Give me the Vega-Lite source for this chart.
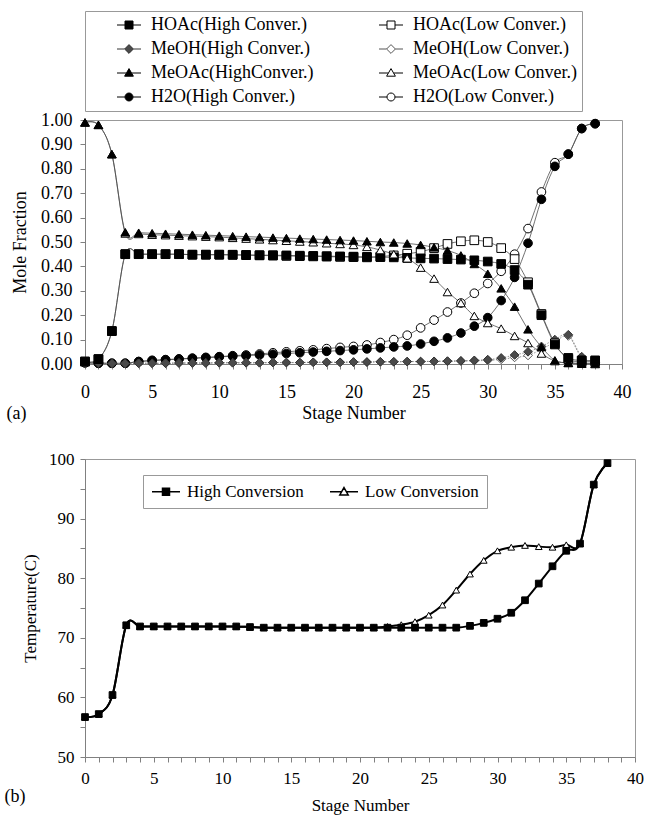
{
"$schema": "https://vega.github.io/schema/vega-lite/v6.json",
"background": "white",
"padding": {"left": 4, "top": 10, "right": 5, "bottom": 5},
"spacing": 25,
"config": {
 "font": "Liberation Serif",
 "view": {"stroke": "#999999", "strokeWidth": 1},
 "axis": {"grid": false, "domainColor": "#808080", "tickColor": "#808080", "labelColor": "#000000", "titleColor": "#000000", "titleFontWeight": "normal", "labelFont": "Liberation Serif", "titleFont": "Liberation Serif", "labelOverlap": false, "labelFlush": false},
 "legend": {"labelFont": "Liberation Serif", "labelColor": "#000000"}
},
"resolve": {"scale": {"x": "independent", "y": "independent", "shape": "independent", "fill": "independent", "stroke": "independent"}, "legend": {"shape": "independent", "fill": "independent", "stroke": "independent"}},
"vconcat": [
{
 "width": 537, "height": 244,
 "title": {"text": "(a)", "orient": "bottom", "anchor": "start", "frame": "bounds", "offset": -17, "dx": -5, "fontSize": 18, "fontWeight": "normal", "font": "Liberation Serif", "color": "#000000"},
 "data": {"values": [
  {"s":0,"HH":0.01,"HL":0.01,"MH":0.003,"ML":0.003,"AH":0.99,"AL":0.99,"WH":0.005,"WL":0.005},
  {"s":1,"HH":0.02,"HL":0.02,"MH":0.003,"ML":0.003,"AH":0.98,"AL":0.98,"WH":0.003,"WL":0.003},
  {"s":2,"HH":0.135,"HL":0.135,"MH":0.002,"ML":0.002,"AH":0.86,"AL":0.86,"WH":0.003,"WL":0.003},
  {"s":3,"HH":0.45,"HL":0.45,"MH":0.002,"ML":0.002,"AH":0.54,"AL":0.535,"WH":0.003,"WL":0.003},
  {"s":4,"HH":0.45,"HL":0.45,"MH":0.003,"ML":0.003,"AH":0.538,"AL":0.533,"WH":0.01,"WL":0.01},
  {"s":5,"HH":0.45,"HL":0.45,"MH":0.003,"ML":0.003,"AH":0.536,"AL":0.53,"WH":0.014,"WL":0.015},
  {"s":6,"HH":0.45,"HL":0.45,"MH":0.003,"ML":0.003,"AH":0.534,"AL":0.528,"WH":0.017,"WL":0.018},
  {"s":7,"HH":0.45,"HL":0.45,"MH":0.004,"ML":0.004,"AH":0.532,"AL":0.526,"WH":0.02,"WL":0.021},
  {"s":8,"HH":0.448,"HL":0.448,"MH":0.004,"ML":0.004,"AH":0.53,"AL":0.524,"WH":0.023,"WL":0.024},
  {"s":9,"HH":0.448,"HL":0.448,"MH":0.004,"ML":0.004,"AH":0.528,"AL":0.522,"WH":0.026,"WL":0.027},
  {"s":10,"HH":0.448,"HL":0.448,"MH":0.005,"ML":0.005,"AH":0.526,"AL":0.52,"WH":0.029,"WL":0.03},
  {"s":11,"HH":0.448,"HL":0.447,"MH":0.005,"ML":0.005,"AH":0.524,"AL":0.517,"WH":0.032,"WL":0.034},
  {"s":12,"HH":0.447,"HL":0.446,"MH":0.005,"ML":0.005,"AH":0.522,"AL":0.514,"WH":0.034,"WL":0.037},
  {"s":13,"HH":0.446,"HL":0.445,"MH":0.005,"ML":0.005,"AH":0.52,"AL":0.511,"WH":0.037,"WL":0.041},
  {"s":14,"HH":0.446,"HL":0.444,"MH":0.006,"ML":0.006,"AH":0.518,"AL":0.508,"WH":0.04,"WL":0.046},
  {"s":15,"HH":0.445,"HL":0.443,"MH":0.006,"ML":0.006,"AH":0.516,"AL":0.505,"WH":0.043,"WL":0.05},
  {"s":16,"HH":0.444,"HL":0.442,"MH":0.006,"ML":0.006,"AH":0.514,"AL":0.502,"WH":0.046,"WL":0.054},
  {"s":17,"HH":0.443,"HL":0.441,"MH":0.007,"ML":0.007,"AH":0.512,"AL":0.499,"WH":0.049,"WL":0.058},
  {"s":18,"HH":0.442,"HL":0.44,"MH":0.007,"ML":0.007,"AH":0.51,"AL":0.495,"WH":0.052,"WL":0.063},
  {"s":19,"HH":0.441,"HL":0.439,"MH":0.007,"ML":0.007,"AH":0.508,"AL":0.492,"WH":0.055,"WL":0.068},
  {"s":20,"HH":0.44,"HL":0.438,"MH":0.008,"ML":0.008,"AH":0.506,"AL":0.488,"WH":0.058,"WL":0.072},
  {"s":21,"HH":0.439,"HL":0.437,"MH":0.008,"ML":0.008,"AH":0.503,"AL":0.48,"WH":0.062,"WL":0.078},
  {"s":22,"HH":0.438,"HL":0.44,"MH":0.009,"ML":0.009,"AH":0.5,"AL":0.467,"WH":0.066,"WL":0.088},
  {"s":23,"HH":0.437,"HL":0.445,"MH":0.009,"ML":0.009,"AH":0.498,"AL":0.45,"WH":0.07,"WL":0.1},
  {"s":24,"HH":0.435,"HL":0.452,"MH":0.01,"ML":0.01,"AH":0.494,"AL":0.433,"WH":0.074,"WL":0.118},
  {"s":25,"HH":0.433,"HL":0.46,"MH":0.01,"ML":0.01,"AH":0.488,"AL":0.395,"WH":0.082,"WL":0.148},
  {"s":26,"HH":0.432,"HL":0.475,"MH":0.011,"ML":0.011,"AH":0.478,"AL":0.35,"WH":0.093,"WL":0.18},
  {"s":27,"HH":0.43,"HL":0.492,"MH":0.012,"ML":0.011,"AH":0.465,"AL":0.295,"WH":0.107,"WL":0.213},
  {"s":28,"HH":0.428,"HL":0.503,"MH":0.013,"ML":0.012,"AH":0.445,"AL":0.25,"WH":0.127,"WL":0.25},
  {"s":29,"HH":0.425,"HL":0.507,"MH":0.015,"ML":0.013,"AH":0.41,"AL":0.197,"WH":0.155,"WL":0.29},
  {"s":30,"HH":0.42,"HL":0.5,"MH":0.018,"ML":0.015,"AH":0.37,"AL":0.168,"WH":0.19,"WL":0.33},
  {"s":31,"HH":0.41,"HL":0.475,"MH":0.025,"ML":0.019,"AH":0.31,"AL":0.145,"WH":0.26,"WL":0.38},
  {"s":32,"HH":0.385,"HL":0.43,"MH":0.037,"ML":0.027,"AH":0.235,"AL":0.115,"WH":0.355,"WL":0.45},
  {"s":33,"HH":0.325,"HL":0.335,"MH":0.05,"ML":0.035,"AH":0.142,"AL":0.086,"WH":0.495,"WL":0.555},
  {"s":34,"HH":0.2,"HL":0.205,"MH":0.072,"ML":0.06,"AH":0.07,"AL":0.043,"WH":0.675,"WL":0.705},
  {"s":35,"HH":0.08,"HL":0.085,"MH":0.1,"ML":0.09,"AH":0.015,"AL":0.012,"WH":0.81,"WL":0.825},
  {"s":36,"HH":0.025,"HL":0.02,"MH":0.12,"ML":0.115,"AH":0.005,"AL":0.004,"WH":0.86,"WL":0.86},
  {"s":37,"HH":0.015,"HL":0.01,"MH":0.03,"ML":0.025,"AH":0.003,"AL":0.001,"WH":0.965,"WL":0.965},
  {"s":38,"HH":0.015,"HL":0.01,"MH":0.005,"ML":0.005,"AH":0.002,"AL":0.0,"WH":0.985,"WL":0.985}
 ]},
 "transform": [{"fold": ["HH","HL","MH","ML","AH","AL","WH","WL"], "as": ["k","v"]}],
 "encoding": {
  "x": {"field": "s", "type": "quantitative", "scale": {"domain": [0,40], "nice": false},
   "axis": {"title": "Stage Number", "values": [0,1,2,3,4,5,6,7,8,9,10,11,12,13,14,15,16,17,18,19,20,21,22,23,24,25,26,27,28,29,30,31,32,33,34,35,36,37,38,39,40], "labelExpr": "datum.value % 5 == 0 ? datum.label : ''", "tickSize": 5, "labelPadding": 14, "labelFontSize": 18, "titleFontSize": 18, "titlePadding": 3}},
  "y": {"field": "v", "type": "quantitative", "scale": {"domain": [0,1], "nice": false},
   "axis": {"title": "Mole Fraction", "values": [0,0.1,0.2,0.3,0.4,0.5,0.6,0.7,0.8,0.9,1], "format": ".2f", "tickSize": 5, "labelPadding": 8, "labelFontSize": 18, "titleFontSize": 18, "titlePadding": 11}}
 },
 "layer": [
  {"transform": [{"filter": "datum.k != 'MH' && datum.k != 'ML'"}],
   "mark": {"type": "line", "interpolate": "cardinal", "strokeWidth": 0.8, "color": "#4d4d4d"},
   "encoding": {"detail": {"field": "k", "type": "nominal"}}},
  {"transform": [{"filter": "datum.k == 'MH' || datum.k == 'ML'"}],
   "mark": {"type": "line", "interpolate": "cardinal", "strokeWidth": 0.9, "color": "#888888", "strokeDash": [1.5, 1.5]},
   "encoding": {"detail": {"field": "k", "type": "nominal"}}},
  {"mark": {"type": "point", "filled": true, "size": 75, "strokeWidth": 1, "opacity": 1},
   "encoding": {
    "order": {"field": "k", "sort": "descending"},
    "fill": {"field": "k", "type": "nominal", "scale": {"domain": ["HH","MH","AH","WH","HL","ML","AL","WL"], "range": ["#000000","#4a4a4a","#000000","#000000","#ffffff","#ffffff","#ffffff","#ffffff"]},
     "legend": {"title": null, "orient": "none", "legendX": 0, "legendY": -109, "columns": 2, "padding": 5, "rowPadding": 6, "columnPadding": 38, "strokeColor": "#999999", "fillColor": "#ffffff", "labelFontSize": 18, "labelLimit": 400, "symbolSize": 64, "symbolStrokeWidth": 1, "symbolOffset": 30, "labelOffset": 13,
      "labelExpr": "datum.label=='HH'?'HOAc(High Conver.)':datum.label=='HL'?'HOAc(Low Conver.)':datum.label=='MH'?'MeOH(High Conver.)':datum.label=='ML'?'MeOH(Low Conver.)':datum.label=='AH'?'MeOAc(HighConver.)':datum.label=='AL'?'MeOAc(Low Conver.)':datum.label=='WH'?'H2O(High Conver.)':'H2O(Low Conver.)'",
      "symbolType": {"expr": "(datum.value=='HH'||datum.value=='HL')?'M-3,0H-1M1,0H3M-1,-1H1V1H-1Z':(datum.value=='MH'||datum.value=='ML')?'M-3,0H-1.1M1.1,0H3M0,-1.1L1.1,0L0,1.1L-1.1,0Z':(datum.value=='AH'||datum.value=='AL')?'M-3,0H-0.7M0.7,0H3M0,-1.1L1.1,0.8H-1.1Z':'M-3,0H-1M1,0H3M1,0A1,1,0,1,1,-1,0A1,1,0,1,1,1,0Z'"}}},
    "stroke": {"field": "k", "type": "nominal", "scale": {"domain": ["HH","MH","AH","WH","HL","ML","AL","WL"], "range": ["#000000","#333333","#000000","#000000","#000000","#555555","#000000","#000000"]},
     "legend": {"title": null, "orient": "none", "legendX": 0, "legendY": -109, "columns": 2, "padding": 5, "rowPadding": 6, "columnPadding": 38, "strokeColor": "#999999", "fillColor": "#ffffff", "labelFontSize": 18, "labelLimit": 400, "symbolSize": 64, "symbolStrokeWidth": 1, "symbolOffset": 30, "labelOffset": 13,
      "labelExpr": "datum.label=='HH'?'HOAc(High Conver.)':datum.label=='HL'?'HOAc(Low Conver.)':datum.label=='MH'?'MeOH(High Conver.)':datum.label=='ML'?'MeOH(Low Conver.)':datum.label=='AH'?'MeOAc(HighConver.)':datum.label=='AL'?'MeOAc(Low Conver.)':datum.label=='WH'?'H2O(High Conver.)':'H2O(Low Conver.)'",
      "symbolType": {"expr": "(datum.value=='HH'||datum.value=='HL')?'M-3,0H-1M1,0H3M-1,-1H1V1H-1Z':(datum.value=='MH'||datum.value=='ML')?'M-3,0H-1.1M1.1,0H3M0,-1.1L1.1,0L0,1.1L-1.1,0Z':(datum.value=='AH'||datum.value=='AL')?'M-3,0H-0.7M0.7,0H3M0,-1.1L1.1,0.8H-1.1Z':'M-3,0H-1M1,0H3M1,0A1,1,0,1,1,-1,0A1,1,0,1,1,1,0Z'"}}},
    "shape": {"field": "k", "type": "nominal", "scale": {"domain": ["WL","AL","ML","HL","WH","AH","MH","HH"], "range": ["circle","triangle-up","diamond","square","circle","triangle-up","diamond","square"]}, "legend": null}
   }}
 ]
},
{
 "width": 550, "height": 298,
 "title": {"text": "(b)", "orient": "bottom", "anchor": "start", "frame": "bounds", "offset": -25, "dx": -17, "fontSize": 18, "fontWeight": "normal", "font": "Liberation Serif", "color": "#000000"},
 "data": {"values": [
  {"s":0,"High Conversion":56.7,"Low Conversion":56.7},
  {"s":1,"High Conversion":57.2,"Low Conversion":57.2},
  {"s":2,"High Conversion":60.4,"Low Conversion":60.4},
  {"s":3,"High Conversion":72.1,"Low Conversion":72.1},
  {"s":4,"High Conversion":71.9,"Low Conversion":71.9},
  {"s":5,"High Conversion":71.9,"Low Conversion":71.9},
  {"s":6,"High Conversion":71.9,"Low Conversion":71.9},
  {"s":7,"High Conversion":71.9,"Low Conversion":71.9},
  {"s":8,"High Conversion":71.9,"Low Conversion":71.9},
  {"s":9,"High Conversion":71.9,"Low Conversion":71.9},
  {"s":10,"High Conversion":71.9,"Low Conversion":71.9},
  {"s":11,"High Conversion":71.9,"Low Conversion":71.9},
  {"s":12,"High Conversion":71.8,"Low Conversion":71.8},
  {"s":13,"High Conversion":71.7,"Low Conversion":71.7},
  {"s":14,"High Conversion":71.7,"Low Conversion":71.7},
  {"s":15,"High Conversion":71.7,"Low Conversion":71.7},
  {"s":16,"High Conversion":71.7,"Low Conversion":71.7},
  {"s":17,"High Conversion":71.7,"Low Conversion":71.7},
  {"s":18,"High Conversion":71.7,"Low Conversion":71.7},
  {"s":19,"High Conversion":71.7,"Low Conversion":71.7},
  {"s":20,"High Conversion":71.7,"Low Conversion":71.7},
  {"s":21,"High Conversion":71.7,"Low Conversion":71.7},
  {"s":22,"High Conversion":71.7,"Low Conversion":71.9},
  {"s":23,"High Conversion":71.7,"Low Conversion":72.2},
  {"s":24,"High Conversion":71.7,"Low Conversion":72.7},
  {"s":25,"High Conversion":71.7,"Low Conversion":73.8},
  {"s":26,"High Conversion":71.7,"Low Conversion":75.5},
  {"s":27,"High Conversion":71.7,"Low Conversion":78.0},
  {"s":28,"High Conversion":72.0,"Low Conversion":80.7},
  {"s":29,"High Conversion":72.5,"Low Conversion":83.0},
  {"s":30,"High Conversion":73.2,"Low Conversion":84.6},
  {"s":31,"High Conversion":74.2,"Low Conversion":85.2},
  {"s":32,"High Conversion":76.3,"Low Conversion":85.5},
  {"s":33,"High Conversion":79.1,"Low Conversion":85.3},
  {"s":34,"High Conversion":82.0,"Low Conversion":85.2},
  {"s":35,"High Conversion":84.6,"Low Conversion":85.6},
  {"s":36,"High Conversion":85.8,"Low Conversion":85.8},
  {"s":37,"High Conversion":95.7,"Low Conversion":95.7},
  {"s":38,"High Conversion":99.3,"Low Conversion":99.3}
 ]},
 "transform": [{"fold": ["High Conversion","Low Conversion"], "as": ["k","v"]}],
 "encoding": {
  "x": {"field": "s", "type": "quantitative", "scale": {"domain": [0,40], "nice": false},
   "axis": {"title": "Stage Number", "values": [0,1,2,3,4,5,6,7,8,9,10,11,12,13,14,15,16,17,18,19,20,21,22,23,24,25,26,27,28,29,30,31,32,33,34,35,36,37,38,39,40], "labelExpr": "datum.value % 5 == 0 ? datum.label : ''", "tickSize": 5, "labelPadding": 8, "labelFontSize": 17, "titleFontSize": 17, "titlePadding": 11}},
  "y": {"field": "v", "type": "quantitative", "scale": {"domain": [50,100], "nice": false},
   "axis": {"title": "Temperature(C)", "values": [50,55,60,65,70,75,80,85,90,95,100], "labelExpr": "datum.value % 10 == 0 ? datum.label : ''", "tickSize": 5, "labelPadding": 6, "labelFontSize": 17, "titleFontSize": 17, "titlePadding": 9}}
 },
 "layer": [
  {"mark": {"type": "line", "interpolate": "cardinal", "strokeWidth": 2, "color": "#000000"},
   "encoding": {"detail": {"field": "k", "type": "nominal"}}},
  {"mark": {"type": "point", "filled": true, "size": 45, "strokeWidth": 1, "opacity": 1},
   "encoding": {
    "order": {"field": "k", "sort": "descending"},
    "fill": {"field": "k", "type": "nominal", "scale": {"domain": ["High Conversion","Low Conversion"], "range": ["#000000","#ffffff"]},
     "legend": {"title": null, "orient": "none", "direction": "horizontal", "legendX": 58, "legendY": 16, "padding": 8, "columnPadding": 23, "strokeColor": "#999999", "fillColor": "#ffffff", "labelFontSize": 17, "labelLimit": 400, "symbolSize": 49, "symbolStrokeWidth": 1.5, "symbolOffset": 6.5, "labelOffset": 12.5,
      "symbolType": {"expr": "datum.value=='High Conversion'?'M-4,0H-1M1,0H4M-1,-1H1V1H-1Z':'M-4,0H-0.7M0.7,0H4M0,-1.2L1.2,0.9H-1.2Z'"}}},
    "stroke": {"field": "k", "type": "nominal", "scale": {"domain": ["High Conversion","Low Conversion"], "range": ["#000000","#000000"]},
     "legend": {"title": null, "orient": "none", "direction": "horizontal", "legendX": 58, "legendY": 16, "padding": 8, "columnPadding": 23, "strokeColor": "#999999", "fillColor": "#ffffff", "labelFontSize": 17, "labelLimit": 400, "symbolSize": 49, "symbolStrokeWidth": 1.5, "symbolOffset": 6.5, "labelOffset": 12.5,
      "symbolType": {"expr": "datum.value=='High Conversion'?'M-4,0H-1M1,0H4M-1,-1H1V1H-1Z':'M-4,0H-0.7M0.7,0H4M0,-1.2L1.2,0.9H-1.2Z'"}}},
    "shape": {"field": "k", "type": "nominal", "scale": {"domain": ["Low Conversion","High Conversion"], "range": ["triangle-up","square"]}, "legend": null}
   }}
 ]
}
]
}
